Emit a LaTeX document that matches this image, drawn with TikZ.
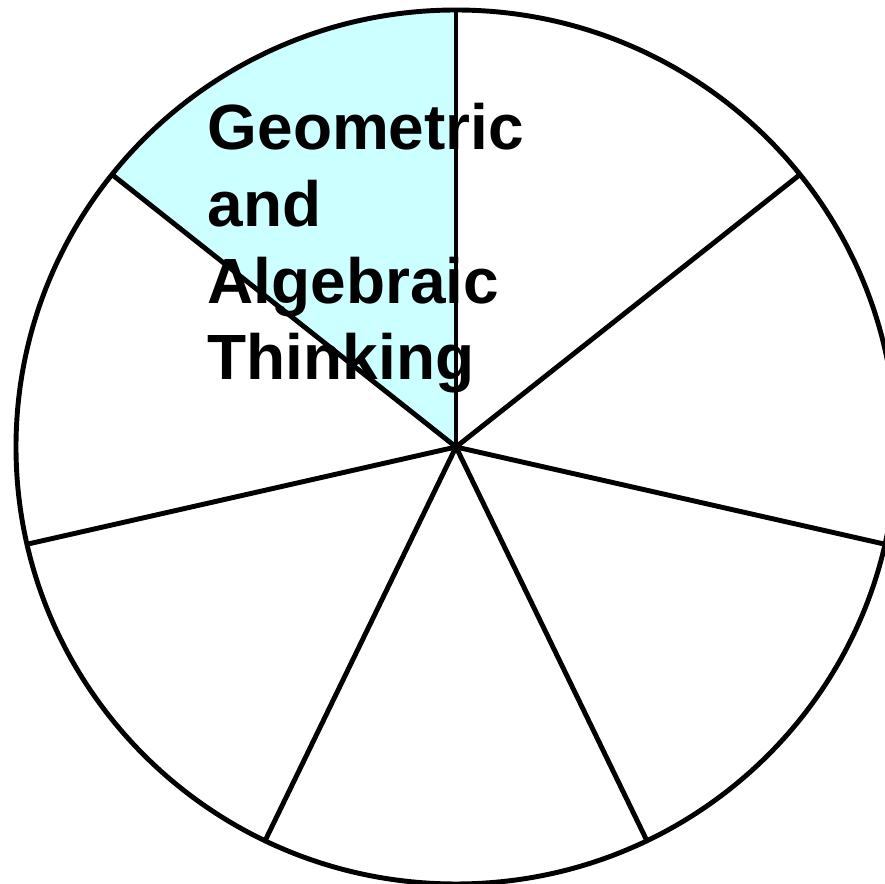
\documentclass[tikz,border=0pt]{standalone}
\usepackage{fontspec}
\setmainfont{Liberation Sans}
\usetikzlibrary{positioning}
\definecolor{palecyan}{RGB}{204,255,255}

\begin{document}
\begin{tikzpicture}[
  rim/.style={draw, line width=1.4pt},
  spoke/.style={draw, line width=1.4pt},
  topic/.style={font=\bfseries\fontsize{18.2}{21.9}\selectfont, align=left,
                inner sep=0pt, anchor=base west}
]
  \useasboundingbox (0,0) rectangle (8.85,-8.84);
  \coordinate (hub) at (4.56,-4.47);

  % highlighted sector
  \fill[palecyan] (hub) -- +(90:4.40 and 4.37)
    arc[start angle=90, end angle=141.43, x radius=4.40, y radius=4.37] -- cycle;

  \foreach \i in {0,...,6}
    \draw[spoke] (hub) -- +({90-\i*360/7}:4.40 and 4.37) coordinate (end\i);
  \draw[rim] (hub) ellipse [x radius=4.40, y radius=4.37];

  \node[topic] (label) at (2.07,-3.80) {Geometric\\and\\Algebraic\\Thinking};
\end{tikzpicture}
\end{document}
